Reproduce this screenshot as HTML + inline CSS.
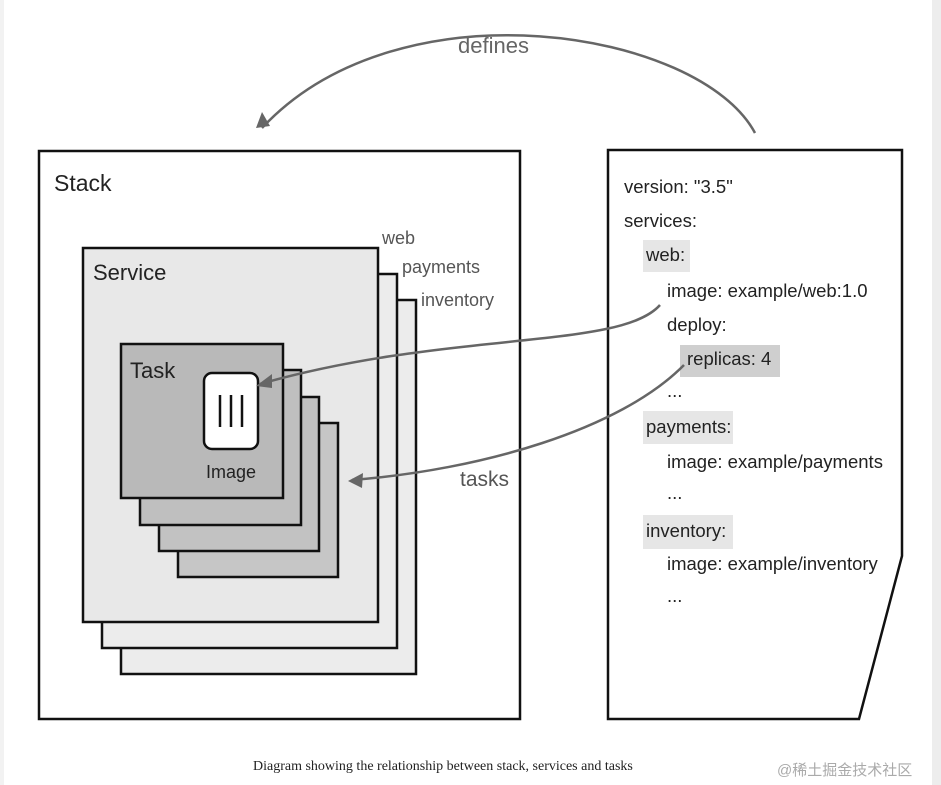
<!DOCTYPE html>
<html><head><meta charset="utf-8"><style>
body{margin:0;width:941px;height:785px;background:#fff;position:relative;overflow:hidden;font-family:"Liberation Sans",sans-serif}
.t{position:absolute;color:#222;font-size:18.5px;white-space:nowrap}
.g{position:absolute;background:#e6e6e6}
</style></head><body>
<div style="position:absolute;left:932px;top:0;width:9px;height:785px;background:#ededed"></div>
<div style="position:absolute;left:0;top:0;width:4px;height:785px;background:#f2f2f2"></div>
<div class="g" style="left:643px;top:240px;width:47px;height:32px"></div>
<div class="g" style="left:680px;top:345px;width:100px;height:32px;background:#cfcfcf"></div>
<div class="g" style="left:643px;top:411px;width:90px;height:33px"></div>
<div class="g" style="left:643px;top:515px;width:90px;height:34px"></div>
<svg width="941" height="785" style="position:absolute;left:0;top:0">
<rect x="39" y="151" width="481" height="568" fill="#fff" stroke="#111" stroke-width="2.5"/>
<rect x="121" y="300" width="295" height="374" fill="#ececec" stroke="#111" stroke-width="2.5"/>
<rect x="102" y="274" width="295" height="374" fill="#ececec" stroke="#111" stroke-width="2.5"/>
<rect x="83" y="248" width="295" height="374" fill="#e8e8e8" stroke="#111" stroke-width="2.5"/>
<rect x="178" y="423" width="160" height="154" fill="#c6c6c6" stroke="#111" stroke-width="2.5"/>
<rect x="159" y="397" width="160" height="154" fill="#c2c2c2" stroke="#111" stroke-width="2.5"/>
<rect x="140" y="370" width="161" height="155" fill="#bfbfbf" stroke="#111" stroke-width="2.5"/>
<rect x="121" y="344" width="162" height="154" fill="#b9b9b9" stroke="#111" stroke-width="2.5"/>
<rect x="204" y="373" width="54" height="76" rx="8" fill="#fff" stroke="#111" stroke-width="2.5"/>
<line x1="220" y1="395" x2="220" y2="427" stroke="#111" stroke-width="2.5"/>
<line x1="231" y1="395" x2="231" y2="427" stroke="#111" stroke-width="2.5"/>
<line x1="242" y1="395" x2="242" y2="427" stroke="#111" stroke-width="2.5"/>
<path d="M608 150 L902 150 L902 556 L859 719 L608 719 Z" fill="none" stroke="#111" stroke-width="2.5"/>
<path d="M755 133 C700 30 400 -20 262 128" fill="none" stroke="#666" stroke-width="2.5"/>
<path d="M256 128 L262 112 L270 126 Z" fill="#666"/>
<path d="M660 305 C620 350 450 330 260 384" fill="none" stroke="#666" stroke-width="2.5"/>
<path d="M256 386 L272 374 L272 388 Z" fill="#666"/>
<path d="M684 365 C620 430 480 470 352 480" fill="none" stroke="#666" stroke-width="2.5"/>
<path d="M348 481 L363 473 L362 488 Z" fill="#666"/>
</svg>
<div class="t" style="left:458px;top:33px;color:#666;font-size:22px">defines</div>
<div class="t" style="left:54px;top:170px;font-size:23px">Stack</div>
<div class="t" style="left:93px;top:260px;font-size:22px">Service</div>
<div class="t" style="left:130px;top:358px;font-size:22px">Task</div>
<div class="t" style="left:206px;top:462px;font-size:18px">Image</div>
<div class="t" style="left:382px;top:228px;color:#555;font-size:18px">web</div>
<div class="t" style="left:402px;top:257px;color:#555;font-size:18px">payments</div>
<div class="t" style="left:421px;top:290px;color:#555;font-size:18px">inventory</div>
<div class="t" style="left:460px;top:468px;color:#555;font-size:21px">tasks</div>
<div class="t" style="left:624px;top:176px">version: "3.5"</div>
<div class="t" style="left:624px;top:210px">services:</div>
<div class="t" style="left:646px;top:244px">web:</div>
<div class="t" style="left:667px;top:280px">image: example/web:1.0</div>
<div class="t" style="left:667px;top:314px">deploy:</div>
<div class="t" style="left:687px;top:348px">replicas: 4</div>
<div class="t" style="left:667px;top:380px">...</div>
<div class="t" style="left:646px;top:416px">payments:</div>
<div class="t" style="left:667px;top:451px">image: example/payments</div>
<div class="t" style="left:667px;top:482px">...</div>
<div class="t" style="left:646px;top:520px">inventory:</div>
<div class="t" style="left:667px;top:553px">image: example/inventory</div>
<div class="t" style="left:667px;top:585px">...</div>
<div class="t" style="left:253px;top:759px;font-family:'Liberation Serif',serif;font-size:14px">Diagram showing the relationship between stack, services and tasks</div>
<div class="t" style="left:777px;top:759px;font-size:15px;color:#aaa;font-family:'Liberation Sans','Noto Sans CJK SC',sans-serif">@稀土掘金技术社区</div>
</body></html>
